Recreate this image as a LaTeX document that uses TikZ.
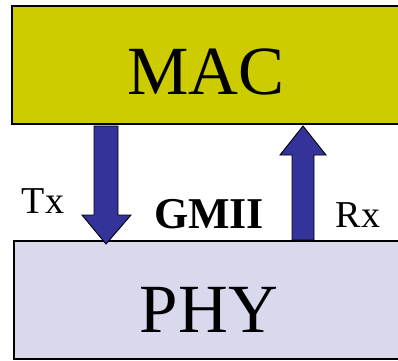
\documentclass[tikz,border=0pt]{standalone}
\usepackage{fontspec}
\setmainfont{Liberation Serif}
\usetikzlibrary{calc}
\definecolor{macfill}{RGB}{204,204,0}
\definecolor{phyfill}{RGB}{216,217,236}
\definecolor{arrowblue}{RGB}{51,51,153}
\tikzset{
  layer/.style={draw=black,line width=1.4pt},
  macbox/.style={layer,fill=macfill},
  phybox/.style={layer,fill=phyfill},
  bigarrow/.style={draw=black,line width=0.9pt,fill=arrowblue,line join=miter},
  big/.style={font=\fontsize{69}{69}\selectfont,anchor=base},
  side/.style={font=\fontsize{38}{38}\selectfont,anchor=base},
}
\begin{document}
\begin{tikzpicture}[x=1pt,y=-1pt]
  \useasboundingbox (0,0) rectangle (398,360);
  \clip (0,0) rectangle (398,360);

  % the two layers
  \draw[macbox] (12,6) rectangle (410,124);
  \draw[phybox] (14,241) rectangle (410,359);
  \coordinate (mac) at (12,124);
  \coordinate (phy) at (14,241);

  \node[big] (macl) at (206,94) {MAC};
  \node[big] (phyl) at (209,332) {PHY};

  % Tx: MAC -> PHY
  \draw[bigarrow] ($(mac)+(82,2)$) -- ($(mac)+(106,2)$) -- ($(mac)+(106,91)$)
    -- ($(mac)+(119,91)$) -- ($(phy)+(92,3)$) -- ($(mac)+(70,91)$)
    -- ($(mac)+(82,91)$) -- cycle;
  % Rx: PHY -> MAC
  \draw[bigarrow] ($(phy)+(278,-1)$) -- ($(phy)+(300,-1)$) -- ($(phy)+(300,-86)$)
    -- ($(phy)+(312,-86)$) -- ($(mac)+(291,2)$) -- ($(phy)+(266,-86)$)
    -- ($(phy)+(278,-86)$) -- cycle;

  \node[side] (tx) at (43,213) {Tx};
  \node[side] (rx) at (358,227) {Rx};
  \node[side,font=\fontsize{44}{44}\selectfont\bfseries] (gmii) at (209,228) {GMII};
\end{tikzpicture}
\end{document}
